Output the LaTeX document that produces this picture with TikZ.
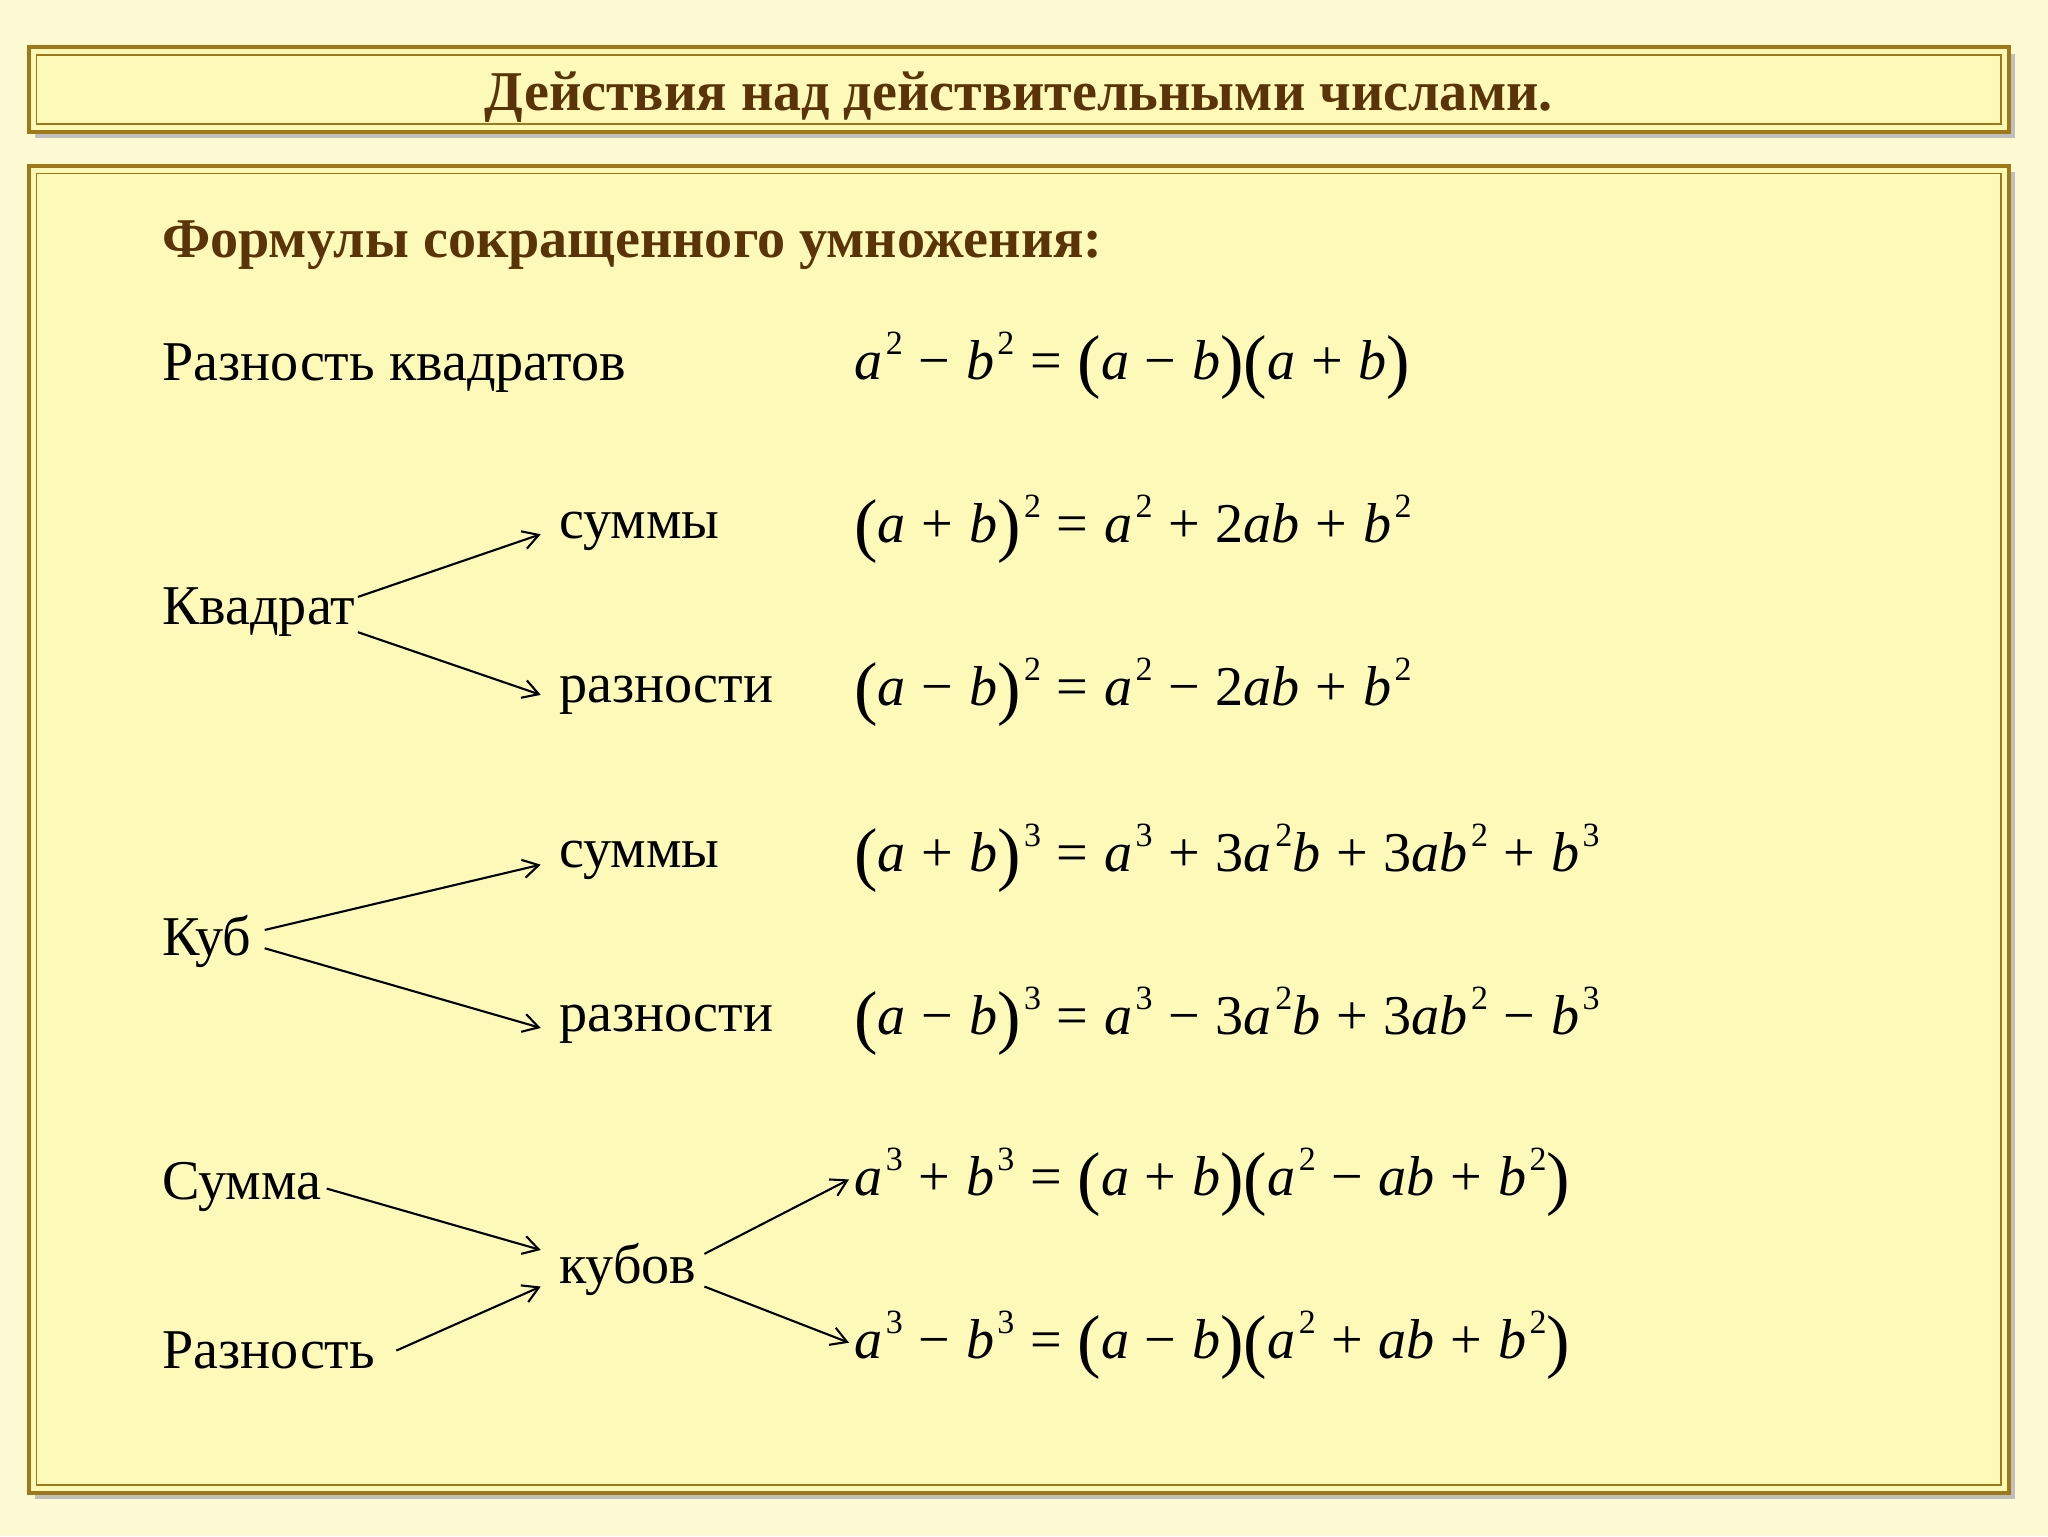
\documentclass[tikz,border=0pt]{standalone}
\usepackage{fontspec}
\setmainfont{Liberation Serif}
\usetikzlibrary{arrows.meta}
\definecolor{bg}{HTML}{FDF9B8}
\definecolor{frame}{HTML}{A07818}
\definecolor{ttl}{HTML}{5A3408}
\newcommand{\mv}[1]{\textit{#1}}
\newcommand{\sq}[1]{\hspace{0.06em}\raisebox{0.45em}{\fontsize{26}{26}\selectfont #1}}
\newcommand{\op}[1]{\hspace{0.28em}#1\hspace{0.28em}}
\newcommand{\lp}{{\fontsize{54}{54}\selectfont\raisebox{-0.08em}{(}}}
\newcommand{\rp}{{\fontsize{54}{54}\selectfont\raisebox{-0.08em}{)}}}
\tikzset{
 lbl/.style={anchor=west,inner sep=2pt,font=\fontsize{43}{50}\selectfont},
 fml/.style={anchor=west,inner sep=2pt,font=\fontsize{43}{50}\selectfont},
 arr/.style={-{Straight Barb[length=12pt,width=14pt]},line width=1.6pt},
}
\begin{document}
\begin{tikzpicture}[x=1pt,y=-1pt]
\useasboundingbox[fill=bg!60!white] (0,0) rectangle (1568,1176);
\fill[black!25] (27,41) rectangle (1543,106);
\fill[black!25] (27,132) rectangle (1543,1148);
\draw[frame,line width=3pt,fill=bg] (22,36) rectangle (1538,101);
\draw[frame,line width=1pt] (28,42) rectangle (1532,95);
\draw[frame,line width=3pt,fill=bg] (22,127) rectangle (1538,1143);
\draw[frame,line width=1pt] (28,133) rectangle (1532,1137);
\node[font=\fontsize{43}{50}\selectfont\bfseries,text=ttl] (title) at (780,74) {Действия над действительными числами.};
\node[lbl,font=\fontsize{43}{50}\selectfont\bfseries,text=ttl] (sub) at (122,188) {Формулы сокращенного умножения:};
\node[lbl] (rk) at (122,282) {Разность квадратов};
\node[fml] (f1) at (652,280) {\mv{a}\sq{2}\op{−}\mv{b}\sq{2}\op{=}\lp\mv{a}\op{−}\mv{b}\rp\lp\mv{a}\op{+}\mv{b}\rp};
\node[lbl] (kv) at (122,469) {Квадрат};
\node[lbl] (s1) at (426,407) {суммы};
\node[lbl] (r1) at (426,532) {разности};
\node[fml] (f2) at (652,405) {\lp\mv{a}\op{+}\mv{b}\rp\sq{2}\op{=}\mv{a}\sq{2}\op{+}2\mv{ab}\op{+}\mv{b}\sq{2}};
\node[fml] (f3) at (652,530) {\lp\mv{a}\op{−}\mv{b}\rp\sq{2}\op{=}\mv{a}\sq{2}\op{−}2\mv{ab}\op{+}\mv{b}\sq{2}};
\node[lbl] (kub) at (122,721) {Куб};
\node[lbl] (s2) at (426,659) {суммы};
\node[lbl] (r2) at (426,784) {разности};
\node[fml] (f4) at (652,657) {\lp\mv{a}\op{+}\mv{b}\rp\sq{3}\op{=}\mv{a}\sq{3}\op{+}3\mv{a}\sq{2}\mv{b}\op{+}3\mv{ab}\sq{2}\op{+}\mv{b}\sq{3}};
\node[fml] (f5) at (652,782) {\lp\mv{a}\op{−}\mv{b}\rp\sq{3}\op{=}\mv{a}\sq{3}\op{−}3\mv{a}\sq{2}\mv{b}\op{+}3\mv{ab}\sq{2}\op{−}\mv{b}\sq{3}};
\node[lbl] (sum) at (122,909) {Сумма};
\node[lbl] (raz) at (122,1034) {Разность};
\node[lbl] (kubov) at (426,972) {кубов};
\node[fml] (f6) at (652,905) {\mv{a}\sq{3}\op{+}\mv{b}\sq{3}\op{=}\lp\mv{a}\op{+}\mv{b}\rp\lp\mv{a}\sq{2}\op{−}\mv{ab}\op{+}\mv{b}\sq{2}\rp};
\node[fml] (f7) at (652,1030) {\mv{a}\sq{3}\op{−}\mv{b}\sq{3}\op{=}\lp\mv{a}\op{−}\mv{b}\rp\lp\mv{a}\sq{2}\op{+}\mv{ab}\op{+}\mv{b}\sq{2}\rp};
\draw[arr] ([yshift=12pt]kv.east) -- ([xshift=-12pt,yshift=-2pt]s1.west);
\draw[arr] ([yshift=-15pt]kv.east) -- ([xshift=-12pt]r1.west);
\draw[arr] ([xshift=8pt,yshift=9pt]kub.east) -- ([xshift=-12pt,yshift=-3pt]s2.west);
\draw[arr] ([xshift=8pt,yshift=-5pt]kub.east) -- ([xshift=-12pt,yshift=-3pt]r2.west);
\draw[arr] ([xshift=2pt,yshift=-1pt]sum.east) -- ([xshift=-12pt,yshift=15pt]kubov.west);
\draw[arr] ([xshift=14pt]raz.east) -- ([xshift=-12pt,yshift=-13pt]kubov.west);
\draw[arr] ([xshift=4pt,yshift=12pt]kubov.east) -- ([xshift=-2pt,yshift=2pt]f6.west);
\draw[arr] ([xshift=4pt,yshift=-13pt]kubov.east) -- ([xshift=-2pt,yshift=2pt]f7.west);
\end{tikzpicture}
\end{document}
